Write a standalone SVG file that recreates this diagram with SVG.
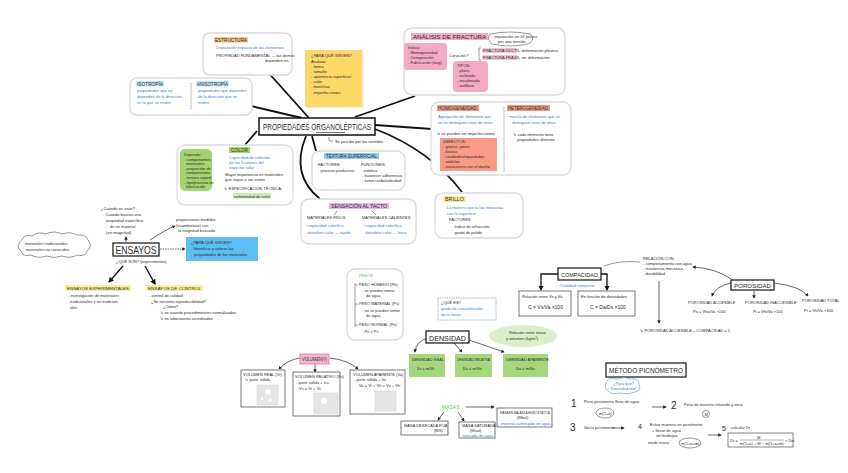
<svg xmlns="http://www.w3.org/2000/svg" width="848" height="473" viewBox="0 0 848 473">
<defs>
<style>
text{font-family:"Liberation Sans","DejaVu Sans",sans-serif;font-size:4px;fill:#2a2a2a}
.b{fill:#3a7ad8}
.g{fill:#5cc45c}
.h{font-size:4.6px}
.card{fill:#fff;stroke:#dadada;stroke-width:1.3}
.box{fill:#fff;stroke:#555;stroke-width:0.8}
.conn{stroke:#111;stroke-width:1.8;fill:none}
.arr{stroke:#222;stroke-width:0.7;fill:none;marker-end:url(#ah)}
.arrb{stroke:#111;stroke-width:1.4;fill:none;marker-end:url(#ahb)}
.thin{stroke:#333;stroke-width:0.5;fill:none}
.sq{fill:#e6e6e6;stroke:#d0d0d0;stroke-width:0.5}
</style>
<marker id="ah" viewBox="0 0 10 10" refX="8" refY="5" markerWidth="5" markerHeight="5" orient="auto"><path d="M0,0 L10,5 L0,10 z" fill="#222"/></marker>
<marker id="ahb" viewBox="0 0 10 10" refX="8" refY="5" markerWidth="4" markerHeight="4" orient="auto"><path d="M0,0 L10,5 L0,10 z" fill="#111"/></marker>
</defs>
<rect width="848" height="473" fill="#fff"/>

<g id="connectors">
<path class="conn" d="M266,70 L309,118"/>
<path class="conn" d="M251,106 L302,118"/>
<path class="conn" d="M355,117 L415,96"/>
<path class="conn" d="M375,125 L432,129"/>
<path class="conn" d="M375,129 Q430,150 462,192"/>
<path class="conn" d="M257,131 L245,145"/>
<path class="conn" d="M306,136 Q290,175 320,199"/>
<path class="conn" d="M312,136 L316,151"/>
<path class="arr" d="M126,242 L126,237"/>
<path class="arr" d="M150,240 Q165,230 175,226"/>
<path class="arr" d="M160,249 L185,249" stroke-dasharray="1.5,1"/>
<path class="arrb" d="M123,266 L109,282"/>
<path class="arrb" d="M145,266 L155,284"/>
<path class="arr" d="M300,358 Q287,360 279,369"/>
<path class="arr" d="M315,364 L315,372"/>
<path class="arr" d="M330,358 Q348,360 358,369"/>
<path class="arr" d="M427,338 Q416,342 415,352"/>
<path class="arr" d="M454,343 L462,352"/>
<path class="arr" d="M469,340 L504,352"/>
<path class="arr" d="M466,407 L494,407"/>
<path class="arr" d="M444,412 L438,420"/>
<path class="arr" d="M458,412 L464,421"/>
<path d="M558,274 L541,274 L541,290" stroke="#111" stroke-width="1.3" fill="none" marker-end="url(#ahb)"/>
<path d="M601,274 L607,274 L607,290" stroke="#111" stroke-width="1.3" fill="none" marker-end="url(#ahb)"/>
<path class="thin" d="M604,266 Q620,260 640,262"/>
<path class="arr" d="M731,279 Q715,268 693,267"/>
<path class="arr" d="M659,281 L659,323"/>
<path class="arr" d="M731,283 Q716,286 712,296"/>
<path class="arr" d="M754,291 L754,298"/>
<path class="arr" d="M774,283 Q800,286 808,296"/>
<path class="arr" d="M652,407 L666,407"/>
<path class="arr" d="M612,428 L624,428"/>
<path class="arr" d="M708,435 L721,435"/>
<path class="arr" d="M487,38 L491,38"/>
</g>

<g id="central">
<rect x="259" y="118" width="116" height="17" fill="#fff" stroke="#111" stroke-width="1.5"/>
<text x="263" y="130" textLength="108" lengthAdjust="spacingAndGlyphs" style="font-size:8.2px">PROPIEDADES ORGANOLÉPTICAS</text>
<path d="M316,132.5 L345,132.5" stroke="#111" stroke-width="0.6"/>
<path class="thin" d="M329,137 L329,141 L333,141"/>
<text x="335" y="143">Se percibe por los sentidos</text>
</g>

<g id="estructura">
<rect class="card" x="203" y="33" width="89" height="42" rx="7"/>
<rect x="214" y="37" width="34" height="5.5" fill="#f8c97e"/>
<text class="h" x="215" y="41.5" textLength="32" lengthAdjust="spacingAndGlyphs">ESTRUCTURA</text>
<text class="b" x="216" y="49">Disposición espacial de los elementos</text>
<text x="216" y="57">PROPIEDAD FUNDAMENTAL → las demás</text>
<text x="265" y="62">dependen en</text>
</g>

<g id="isotropia">
<rect class="card" x="130" y="78" width="122" height="37" rx="7"/>
<rect x="136" y="81" width="28" height="5.5" fill="#bfe8fc"/>
<text class="h" x="137" y="85.5" textLength="26" lengthAdjust="spacingAndGlyphs">ISOTROPÍA</text>
<text class="b" x="137" y="92">propiedades que no</text>
<text class="b" x="137" y="98">dependen de la dirección</text>
<text class="b" x="137" y="104">en la que se miden</text>
<path d="M191,83 L191,110" stroke="#777" stroke-width="0.8" stroke-dasharray="1,0.8"/>
<rect x="196" y="81" width="33" height="5.5" fill="#bfe8fc"/>
<text class="h" x="197" y="85.5" textLength="31" lengthAdjust="spacingAndGlyphs">ANISOTROPÍA</text>
<text class="b" x="198" y="92">propiedades que dependen</text>
<text class="b" x="198" y="98">de la dirección que se</text>
<text class="b" x="198" y="104">miden</text>
</g>

<g id="sticky">
<rect x="307" y="51" width="57" height="57" fill="#e8e0c0" opacity="0.6"/>
<rect x="305" y="50" width="57" height="57" fill="#fcd868"/>
<text x="311" y="57">¿PARA QUÉ SIRVEN?</text>
<text x="311" y="63">Analizar:</text>
<text x="311" y="68">- forma</text>
<text x="311" y="73">- tamaño</text>
<text x="311" y="78">- apariencia superficial</text>
<text x="311" y="83">- color</text>
<text x="311" y="88">- manchas</text>
<text x="311" y="94">- imperfecciones</text>
</g>

<g id="fractura">
<rect class="card" x="404" y="28" width="161" height="67" rx="8"/>
<rect x="411" y="33" width="77" height="7" fill="#f5a9c4"/>
<text class="h" x="413" y="38.5" textLength="73" lengthAdjust="spacingAndGlyphs" style="font-size:5.2px">ANÁLISIS DE FRACTURA</text>
<path class="thin" d="M490,34 Q510,30 530,34 Q536,40 528,44 Q510,48 492,44 Q486,39 490,34 z"/>
<text x="494" y="38">separación en ≥2 partes</text>
<text x="498" y="43">por una tensión</text>
<rect x="404" y="43" width="43" height="27" rx="3" fill="#f5a9c4"/>
<text x="408" y="49">Indica:</text>
<text x="408" y="54">- Homogeneidad</text>
<text x="408" y="59">- Composición</text>
<text x="408" y="64">- Fabricación (ang)</text>
<text x="449" y="57">Curva σ/ε?</text>
<path class="thin" d="M481,48 L479,48 L479,60 L481,60"/>
<rect x="482" y="48" width="35" height="5" fill="#f7c3d5"/>
<text x="483" y="52">FRACTURA DÚCTIL</text>
<text x="519" y="52">- deformación plástica</text>
<rect x="482" y="55" width="35" height="5" fill="#f7c3d5"/>
<text x="483" y="59">FRACTURA FRÁGIL</text>
<text x="519" y="59">- sin deformación</text>
<rect x="453" y="61" width="35" height="31" rx="4" fill="#f5a9c4"/>
<text x="457" y="67">TIPOS:</text>
<text x="457" y="72">- plana</text>
<text x="457" y="77">- inclinada</text>
<text x="457" y="82">- escalonada</text>
<text x="457" y="87">- astillosa</text>
</g>

<g id="homogeneidad">
<rect class="card" x="431" y="102" width="140" height="73" rx="8"/>
<rect x="437" y="105" width="42" height="6" fill="#f99a85"/>
<text class="h" x="438" y="110" textLength="40" lengthAdjust="spacingAndGlyphs">HOMOGENEIDAD:</text>
<text class="b" x="438" y="118">Agregación de elementos que</text>
<text class="b" x="438" y="124">no se distinguen unos de otros</text>
<text x="437" y="135">↳ se pueden ver imperfecciones</text>
<rect x="440" y="138" width="57" height="33" fill="#f99a85"/>
<text x="443" y="143">DEFECTOS:</text>
<text x="443" y="148">- grietas, poros</text>
<text x="443" y="153">- fisuras</text>
<text x="443" y="158">- cavidades/oquedades</text>
<text x="443" y="163">- nódulos</text>
<text x="443" y="168">- variaciones con el dueño</text>
<path d="M504,107 L504,172" stroke="#777" stroke-width="0.8" stroke-dasharray="1,0.8"/>
<rect x="507" y="105" width="43" height="6" fill="#f99a85"/>
<text class="h" x="508" y="110" textLength="41" lengthAdjust="spacingAndGlyphs">HETEROGENEIDAD:</text>
<text class="b" x="509" y="118">mezcla de elementos que se</text>
<text class="b" x="512" y="124">distinguen unos de otros</text>
<text x="513" y="136">↳ cada elemento tiene</text>
<text x="517" y="141">propiedades distintas</text>
</g>

<g id="color">
<rect class="card" x="177" y="145" width="116" height="60" rx="8"/>
<rect x="180" y="149" width="32" height="42" rx="5" fill="#a3d46e"/>
<text x="184" y="156">Depende:</text>
<text x="184" y="161">- componentes</text>
<text x="186" y="165">materiales</text>
<text x="184" y="170">- proporción de</text>
<text x="186" y="174">componentes</text>
<text x="184" y="179">- textura superf.</text>
<text x="184" y="184">- tipo/proceso de</text>
<text x="186" y="188">fabricación</text>
<rect x="229" y="147" width="21" height="6" fill="#a3d46e"/>
<text class="h" x="231" y="152" textLength="17" lengthAdjust="spacingAndGlyphs">COLOR</text>
<text class="b" x="229" y="159">Capacidad de reflexión</text>
<text class="b" x="229" y="164">de los 3 colores del</text>
<text class="b" x="229" y="169">espectro solar</text>
<text x="225" y="176">Mayor importancia en materiales</text>
<text x="225" y="181">que vayan a ser vistos</text>
<text x="224" y="190">↳ ESPECIFICACIÓN TÉCNICA:</text>
<rect x="233" y="193" width="38" height="5.5" fill="#cde9b4"/>
<text x="234" y="197.5">uniformidad de color</text>
</g>

<g id="textura">
<rect class="card" x="312" y="151" width="93" height="39" rx="8"/>
<rect x="324" y="153" width="55" height="6" fill="#8ecbf4"/>
<text class="h" x="326" y="158" textLength="51" lengthAdjust="spacingAndGlyphs">TEXTURA SUPERFICIAL</text>
<text x="318" y="166">FACTORES:</text>
<text x="318" y="172">- proceso productivo</text>
<text x="361" y="166">FUNCIONES:</text>
<text x="361" y="172">- estética</text>
<text x="362" y="177">- favorecer adherencia</text>
<text x="362" y="182">- evitar resbaladicidad</text>
</g>

<g id="tacto">
<rect class="card" x="301" y="199" width="115" height="45" rx="8"/>
<rect x="329" y="203" width="60" height="6" fill="#eab3f2"/>
<text class="h" x="331" y="208" textLength="56" lengthAdjust="spacingAndGlyphs">SENSACIÓN AL TACTO</text>
<path class="thin" d="M337,211 L334,215"/>
<path class="thin" d="M372,211 L376,215"/>
<text x="307" y="219">MATERIALES FRÍOS</text>
<text class="b" x="305" y="227">↑ capacidad calorífica</text>
<text class="b" x="307" y="234">absorben calor → rápido</text>
<text x="362" y="219">MATERIALES CALIENTES</text>
<text class="b" x="363" y="227">↑ capacidad calorífica</text>
<text class="b" x="365" y="234">absorben calor → lento</text>
</g>

<g id="brillo">
<rect class="card" x="435" y="193" width="88" height="45" rx="8"/>
<rect x="443" y="196" width="23" height="6" fill="#fbef9a"/>
<text class="h" x="445" y="201" textLength="19" lengthAdjust="spacingAndGlyphs">BRILLO</text>
<text class="b" x="447" y="209">La manera que la luz interactúa</text>
<text class="b" x="447" y="215">con la superficie</text>
<text x="449" y="221">FACTORES:</text>
<text x="452" y="228">· índice de refracción</text>
<text x="452" y="234">· grado de pulido</text>
</g>

<g id="ensayos">
<rect x="113" y="243" width="46" height="13" fill="#fff" stroke="#111" stroke-width="1.2"/>
<text x="115.5" y="254" textLength="41" lengthAdjust="spacingAndGlyphs" style="font-size:10.5px">ENSAYOS</text>
<text x="116" y="263">¿QUÉ SON? (experimentos)</text>
</g>

<g id="ensayos-uso">
<text x="101" y="210">¿Cuándo se usan?</text>
<text x="103" y="216">- Cuando buscas una</text>
<text x="106" y="222">propiedad específica</text>
<text x="110" y="228">de un material</text>
<text x="106" y="234">(sin magnitud)</text>
</g>

<g id="nube-materiales">
<path d="M22,240 Q24,234 32,236 Q38,231 46,234 Q54,230 62,234 Q70,231 77,235 Q86,234 88,240 Q93,246 87,251 Q86,257 77,255 Q70,259 62,256 Q54,259 46,256 Q38,259 31,255 Q22,257 21,251 Q15,246 22,240 z" fill="#fff" stroke="#333" stroke-width="0.5"/>
<text x="25" y="245">materiales tradicionales,</text>
<text x="26" y="251">materiales no conocidos</text>
</g>

<g id="ensayos-medidas">
<text x="176" y="221">proporcionan medidas</text>
<text x="176" y="227">(cuantitativas) con</text>
<text x="178" y="232">la magnitud buscada</text>
</g>

<g id="ensayos-sirven">
<rect x="186" y="237" width="72" height="24" fill="#5bbff3"/>
<text x="191" y="244">¿PARA QUÉ SIRVEN?</text>
<text x="191" y="250">- Identificar y valorar las</text>
<text x="194" y="256">propiedades de los materiales</text>
</g>

<g id="ensayos-experimentales">
<rect x="65" y="285" width="66" height="6" fill="#fbef9a"/>
<text x="67" y="290" textLength="62" lengthAdjust="spacingAndGlyphs">ENSAYOS EXPERIMENTALES</text>
<text x="68" y="297">- investigación de materiales</text>
<text x="70" y="303">tradicionales y no tradicion-</text>
<text x="70" y="309">ales</text>
</g>

<g id="ensayos-control">
<rect x="146" y="285" width="57" height="6" fill="#fbef9a"/>
<text x="148" y="290" textLength="53" lengthAdjust="spacingAndGlyphs">ENSAYOS DE CONTROL</text>
<text x="149" y="297">- control de calidad</text>
<text x="151" y="303">¿Se necesita reproducibilidad?</text>
<text x="163" y="308">¿Cómo?</text>
<text x="160" y="314">↳ se usando procedimientos normalizados</text>
<text x="160" y="320">↳ en laboratorios acreditados</text>
</g>

<g id="pesos">
<rect class="card" x="347" y="269" width="56" height="71" rx="8"/>
<text class="g" x="359" y="277">PESOS</text>
<path class="thin" d="M355,283 L355,327 M355,285 L358,285 M355,304 L358,304 M355,325 L358,325"/>
<text x="359" y="286">PESO HÚMEDO (Ph)</text>
<text x="362" y="292">- se pueden tomar</text>
<text x="366" y="297">de agua</text>
<text x="359" y="305">PESO MATERIAL (Ps)</text>
<text x="362" y="312">- no se pueden tomar</text>
<text x="366" y="317">de agua</text>
<text x="359" y="326">PESO NORMAL (Pn)</text>
<text x="362" y="333">- Pn ≠ Ps</text>
</g>

<g id="que-es">
<rect x="438" y="298" width="58" height="22" fill="#fff" stroke="#3a7ad8" stroke-width="0.6" stroke-dasharray="1,0.8"/>
<text x="441" y="304">¿QUÉ ES?</text>
<text class="b" x="441" y="310">grado de concentración</text>
<text class="b" x="441" y="316">de la masa</text>
</g>

<g id="densidad">
<rect x="426" y="331" width="43" height="12" fill="#fff" stroke="#111" stroke-width="1.2"/>
<text x="429" y="340.5" textLength="37" lengthAdjust="spacingAndGlyphs" style="font-size:7.5px">DENSIDAD</text>
</g>
<g id="densidad-relacion">
<ellipse cx="523" cy="336" rx="34" ry="11" fill="#dcefc9"/>
<text x="509" y="334">Relación entre masa</text>
<text x="506" y="340">y volumen (kg/m³)</text>
</g>
<g id="densidad-real">
<rect x="409" y="354" width="36" height="23" fill="#a5d77c"/>
<text x="412" y="361">DENSIDAD REAL</text>
<text x="417" y="370">Dr = m/Vr</text>
</g>
<g id="densidad-relativa">
<rect x="455" y="354" width="37" height="23" fill="#a5d77c"/>
<text x="457" y="361" textLength="33" lengthAdjust="spacingAndGlyphs">DENSIDAD RELATIVA</text>
<text x="463" y="370">Ds = m/Vs</text>
</g>
<g id="densidad-aparente">
<rect x="503" y="354" width="45" height="23" fill="#a5d77c"/>
<text x="506" y="361">DENSIDAD APARENTE</text>
<text x="516" y="370">Da = m/Va</text>
</g>

<g id="volumen">
<rect x="300" y="354" width="29" height="10" fill="#f7b7d2" stroke="#e36fa5" stroke-width="0.8"/>
<text x="302" y="361" textLength="25" lengthAdjust="spacingAndGlyphs" style="font-size:4.6px">VOLUMEN(V)</text>
</g>
<g id="volumen-real">
<rect class="box" x="241" y="370" width="44" height="37" stroke="#bbb"/>
<text x="243" y="376">VOLUMEN REAL (Vr)</text>
<text x="245" y="381">↳ parte sólida</text>
<rect class="sq" x="257" y="385" width="21" height="20"/>
<circle cx="268" cy="392" r="3" fill="#fff"/><circle cx="262" cy="399" r="1.3" fill="#fff"/><circle cx="270" cy="400" r="1.5" fill="#fff"/>
</g>
<g id="volumen-relativo">
<rect class="box" x="293" y="372" width="47" height="44" stroke="#bbb"/>
<text x="295" y="378">VOLUMEN RELATIVO (Vs)</text>
<text x="296" y="384">- parte sólida + h.c.</text>
<text x="299" y="390">Vs = Vr + Vc</text>
<rect class="sq" x="314" y="393" width="24" height="21"/>
<circle cx="324" cy="401" r="3" fill="#fff"/>
</g>
<g id="volumen-aparente">
<rect class="box" x="350" y="370" width="55" height="44" stroke="#bbb"/>
<text x="353" y="376">VOLUMEN APARENTE (Va)</text>
<text x="354" y="381">- parte sólida + hs</text>
<text x="359" y="387">Va = Vr + Vh = Vs + Vh</text>
<rect class="sq" x="375" y="391" width="21" height="20"/>
</g>

<g id="masas">
<text class="g" x="442" y="409" style="font-size:5px">MASAS</text>
</g>
<g id="masa-desecada">
<rect class="box" x="401" y="421" width="47" height="14"/>
<text x="404" y="427">MASA DESECADA FIJA</text>
<text x="434" y="432">(MS)</text>
</g>
<g id="masa-saturada">
<rect class="box" x="459" y="422" width="36" height="16"/>
<text x="462" y="427">MASA SATURADA</text>
<text x="470" y="432">(Msat)</text>
<text class="b" x="462" y="437">saturada de agua</text>
</g>
<g id="masa-balanza">
<rect class="box" x="497" y="408" width="55" height="19"/>
<text x="500" y="414" textLength="50" lengthAdjust="spacingAndGlyphs">MASA EN BALANZA HIDROSTÁTICA</text>
<text x="517" y="419">(Mbal)</text>
<text class="b" x="501" y="425">material sumergido en agua</text>
</g>

<g id="compacidad">
<rect x="558" y="268" width="43" height="12" fill="#fff" stroke="#111" stroke-width="1.2"/>
<text x="561" y="276.5" textLength="37" lengthAdjust="spacingAndGlyphs" style="font-size:6px">COMPACIDAD</text>
<text class="b" x="560" y="287">Cualidad compacto</text>
</g>
<g id="compacidad-vol">
<rect class="box" x="519" y="291" width="52" height="25" stroke="#aaa"/>
<text x="522" y="298">Relación entre Vs y Va</text>
<text x="528" y="309" style="font-size:5px">C = Vs/Va ×100</text>
</g>
<g id="compacidad-dens">
<rect class="box" x="578" y="291" width="57" height="25" stroke="#aaa"/>
<text x="581" y="298">En función de densidades</text>
<text x="590" y="309" style="font-size:5px">C = Da/Ds ×100</text>
</g>

<g id="porosidad">
<rect x="731" y="280" width="43" height="10" fill="#fff" stroke="#111" stroke-width="1.2"/>
<text x="734" y="287.5" textLength="37" lengthAdjust="spacingAndGlyphs" style="font-size:5.5px">POROSIDAD</text>
</g>
<g id="porosidad-relacion">
<text x="643" y="260">RELACIÓN CON:</text>
<text x="643" y="265">- comportamiento con agua</text>
<text x="643" y="270">- resistencia mecánica</text>
<text x="643" y="275">- durabilidad</text>
<text x="640" y="332">↳ POROSIDAD ACCESIBLE + COMPACIDAD = 1</text>
</g>
<g id="porosidad-accesible">
<text x="688" y="304">POROSIDAD ACCESIBLE</text>
<text x="693" y="313">Pa = Vha/Va ×100</text>
</g>
<g id="porosidad-inaccesible">
<text x="745" y="304">POROSIDAD INACCESIBLE</text>
<text x="753" y="313">Pi = Vhi/Va ×100</text>
</g>
<g id="porosidad-total">
<text x="802" y="302">POROSIDAD TOTAL</text>
<text x="804" y="312">Pt = Vh/Va ×100</text>
</g>

<g id="picnometro">
<rect x="606" y="363" width="80" height="14" fill="#fff" stroke="#111" stroke-width="1.2"/>
<text x="609" y="373" textLength="74" lengthAdjust="spacingAndGlyphs" style="font-size:7px">MÉTODO PICNÓMETRO</text>
<path d="M607,381 Q610,377 617,379 Q624,376 631,379 Q639,378 639,384 Q642,390 635,392 Q628,395 620,393 Q611,395 608,391 Q603,386 607,381 z" fill="#fff" stroke="#3a7ad8" stroke-width="0.5"/>
<text class="b" x="613" y="385">¿Para qué?</text>
<text class="b" x="611" y="390">Densidad real</text>
</g>
<g id="paso1">
<text x="571" y="407" style="font-size:10px">1</text>
<text x="584" y="403">Pesa picnómetro lleno de agua</text>
<ellipse cx="605" cy="413" rx="9" ry="5" fill="none" stroke="#333" stroke-width="0.5"/>
<text x="599" y="414.5">m(1+a)</text>
</g>
<g id="paso2">
<text x="671" y="409" style="font-size:10px">2</text>
<text x="684" y="406">Pesa de muestra triturada y seca</text>
<circle cx="706" cy="414" r="3.5" fill="none" stroke="#333" stroke-width="0.5"/>
<text x="704.5" y="415.5">M</text>
</g>
<g id="paso3">
<text x="570" y="431" style="font-size:10px">3</text>
<text x="584" y="429">Vacía picnómetro</text>
</g>
<g id="paso4">
<text x="638" y="429" style="font-size:7px">4</text>
<text x="650" y="426">Echar muestra en picnómetro</text>
<text x="652" y="432">+ llenar de agua</text>
<text x="656" y="437">sin burbujas</text>
<text x="648" y="444">medir masa</text>
<ellipse cx="690" cy="443" rx="11" ry="5" fill="none" stroke="#333" stroke-width="0.5"/>
<text x="681" y="444.5">m(1+a+m)</text>
</g>
<g id="paso5">
<text x="722" y="431" style="font-size:7px">5</text>
<text x="731" y="429">calcular Dr</text>
<rect x="728" y="433" width="65" height="14" fill="#fff" stroke="#333" stroke-width="0.6"/>
<text x="730" y="442">Dr =</text>
<text x="757" y="439">M</text>
<path d="M740,440 L784,440" stroke="#333" stroke-width="0.4"/>
<text x="740" y="445">m(1+a) + M − m(1+a+m)</text>
<text x="785" y="442">× Dw</text>
</g>
</svg>
